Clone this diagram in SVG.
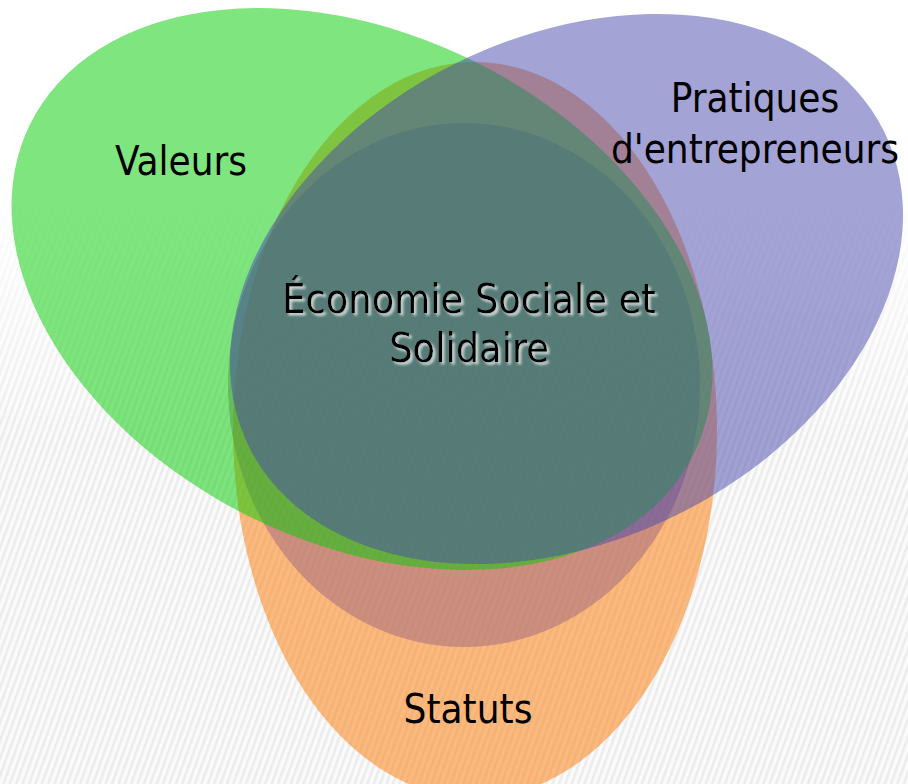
<svg xmlns="http://www.w3.org/2000/svg" width="908" height="784" viewBox="0 0 908 784">
  <defs>
    <pattern id="stripes" width="6" height="6" patternUnits="userSpaceOnUse" patternTransform="rotate(20)">
      <rect width="6" height="6" fill="#fbfbfb"/>
      <rect width="2.6" height="6" fill="#ececec"/>
    </pattern>
    <linearGradient id="fade" gradientUnits="userSpaceOnUse" x1="0" y1="180" x2="0" y2="440">
      <stop offset="0" stop-color="#000"/>
      <stop offset="1" stop-color="#fff"/>
    </linearGradient>
    <mask id="fadeMask">
      <rect width="908" height="784" fill="url(#fade)"/>
    </mask>
    <filter id="glow" x="-10%" y="-30%" width="120%" height="160%">
      <feDropShadow dx="2.5" dy="2.5" stdDeviation="1.3" flood-color="#ffffff" flood-opacity="0.7"/>
    </filter>
  </defs>
  <style>
    .set { fill-opacity: 0.5; stroke: none; }
    .orange { fill: #fb7701; }
    .core { fill: #9d637e; }
    .green { fill: #00cd00; }
    .blue { fill: #4747ad; }
    .lbl { font-family: "DejaVu Sans Condensed", "DejaVu Sans", Verdana, sans-serif; font-size: 40px; fill: #000; text-anchor: middle; }
    .ess { font-size: 41px; filter: url(#glow); }
  </style>

  <g id="background">
    <rect width="908" height="784" fill="#ffffff"/>
    <rect width="908" height="784" fill="url(#stripes)" mask="url(#fadeMask)"/>
  </g>

  <g id="node-statuts">
    <ellipse class="set orange" cx="475" cy="430" rx="242" ry="368"/>
    <text class="lbl" x="468" y="723">Statuts</text>
  </g>

  <g id="node-ess-zone">
    <ellipse class="set core" cx="464" cy="385" rx="236" ry="262"/>
  </g>

  <g id="node-valeurs">
    <ellipse class="set green" cx="362" cy="289" rx="370.6" ry="253.9" transform="rotate(26.5 362 289)"/>
    <text class="lbl" x="181" y="175">Valeurs</text>
  </g>

  <g id="node-pratiques">
    <ellipse class="set blue" cx="566.5" cy="289" rx="354.5" ry="251.4" transform="rotate(-26.5 566.5 289)"/>
    <text class="lbl" x="755" y="112">Pratiques</text>
    <text class="lbl" x="755" y="163">d'entrepreneurs</text>
  </g>

  <g id="node-ess">
    <text class="lbl ess" x="469" y="313">Économie Sociale et</text>
    <text class="lbl ess" x="469" y="362">Solidaire</text>
  </g>

  <g id="connectors"/>
</svg>
